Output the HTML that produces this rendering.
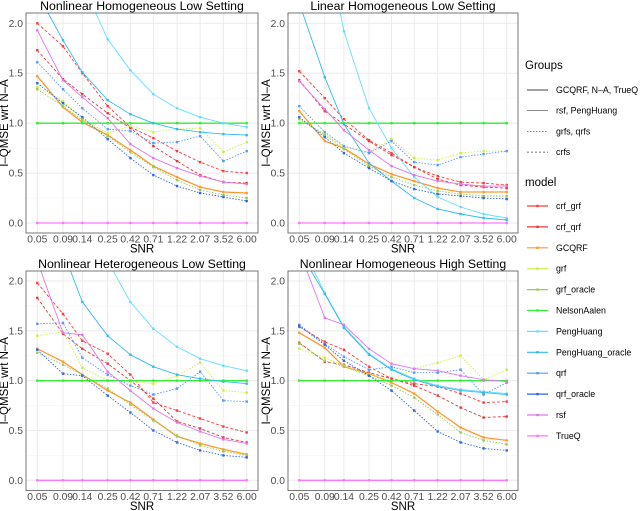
<!DOCTYPE html>
<html><head><meta charset="utf-8"><style>
body{margin:0;background:#fff;}
svg{display:block;font-family:"Liberation Sans",sans-serif;}
</style></head><body>
<svg id="c" width="640" height="511" viewBox="0 0 640 511"></svg>
<script>
const snr=[0.05,0.09,0.14,0.25,0.42,0.71,1.22,2.07,3.52,6.00];
const snrLabels=["0.05","0.09","0.14","0.25","0.42","0.71","1.22","2.07","3.52","6.00"];
const yTicks=[0,0.5,1,1.5,2];
const yTickLabels=["0.0","0.5","1.0","1.5","2.0"];
const models=["crf_grf","crf_qrf","GCQRF","grf","grf_oracle","NelsonAalen","PengHuang","PengHuang_oracle","qrf","qrf_oracle","rsf","TrueQ"];
const colors={crf_grf:"#ff3b3b",crf_qrf:"#e23a3a",GCQRF:"#ff9933",grf:"#ccee44",grf_oracle:"#99cc55",NelsonAalen:"#33ee33",PengHuang:"#66ddff",PengHuang_oracle:"#33bbee",qrf:"#5599ff",qrf_oracle:"#3366dd",rsf:"#dd77ee",TrueQ:"#ff77ff"};
const dash={crf_grf:"3,2",crf_qrf:"3,2",grf:"1.5,1.5",grf_oracle:"1.5,1.5",qrf:"1.5,1.5",qrf_oracle:"1.5,1.5"};
const one=[1,1,1,1,1,1,1,1,1,1], zero=[0,0,0,0,0,0,0,0,0,0];
const p1={crf_grf:[2.00,1.77,1.50,1.17,0.96,0.85,0.72,0.61,0.52,0.50],crf_qrf:[1.73,1.44,1.29,1.10,0.95,0.77,0.62,0.48,0.41,0.40],GCQRF:[1.47,1.16,1.01,0.88,0.73,0.57,0.46,0.36,0.31,0.30],grf:[1.36,1.22,1.04,0.90,0.97,0.91,0.94,0.95,0.71,0.81],grf_oracle:[1.34,1.17,1.03,0.87,0.71,0.56,0.43,0.33,0.28,0.25],NelsonAalen:one,PengHuang:[3.6,3.0,2.4,1.84,1.53,1.29,1.15,1.06,1.00,0.96],PengHuang_oracle:[2.3,1.83,1.51,1.23,1.09,1.00,0.94,0.91,0.89,0.88],qrf:[1.61,1.34,1.15,0.94,0.92,0.80,0.81,0.87,0.62,0.72],qrf_oracle:[1.40,1.20,1.06,0.84,0.65,0.48,0.37,0.30,0.26,0.22],rsf:[1.93,1.43,1.26,1.05,0.79,0.65,0.55,0.47,0.41,0.39],TrueQ:zero};
const p2={crf_grf:[1.52,1.25,1.04,0.83,0.70,0.56,0.47,0.41,0.40,0.38],crf_qrf:[1.43,1.12,0.99,0.82,0.68,0.56,0.44,0.38,0.36,0.35],GCQRF:[1.12,0.82,0.75,0.59,0.49,0.42,0.35,0.31,0.31,0.31],grf:[1.05,0.89,0.76,0.71,0.84,0.65,0.63,0.70,0.72,0.72],grf_oracle:[1.04,0.88,0.74,0.57,0.46,0.38,0.32,0.29,0.27,0.27],NelsonAalen:one,PengHuang:[4.0,2.9,1.92,1.15,0.75,0.46,0.26,0.16,0.09,0.05],PengHuang_oracle:[2.2,1.46,0.99,0.60,0.42,0.25,0.14,0.09,0.05,0.03],qrf:[1.17,0.91,0.77,0.70,0.82,0.61,0.58,0.66,0.69,0.72],qrf_oracle:[1.06,0.86,0.70,0.55,0.42,0.34,0.29,0.27,0.25,0.24],rsf:[1.42,1.14,0.93,0.73,0.57,0.48,0.42,0.39,0.37,0.37],TrueQ:zero};
const p3={crf_grf:[1.98,1.67,1.40,1.27,1.06,0.78,0.70,0.62,0.54,0.48],crf_qrf:[1.83,1.47,1.32,1.17,1.00,0.82,0.59,0.52,0.43,0.38],GCQRF:[1.32,1.19,1.06,0.90,0.78,0.61,0.44,0.37,0.31,0.26],grf:[1.45,1.49,1.13,1.00,0.99,0.97,1.05,1.18,0.90,0.88],grf_oracle:[1.28,1.16,1.06,0.92,0.76,0.60,0.45,0.35,0.29,0.25],NelsonAalen:one,PengHuang:[4.0,3.4,2.8,2.2,1.79,1.52,1.34,1.22,1.15,1.10],PengHuang_oracle:[3.0,2.3,1.79,1.45,1.26,1.14,1.06,1.02,0.99,0.97],qrf:[1.57,1.58,1.23,1.06,0.95,0.86,0.92,1.09,0.80,0.79],qrf_oracle:[1.31,1.07,1.05,0.85,0.68,0.50,0.38,0.30,0.25,0.23],rsf:[2.2,1.48,1.46,1.09,0.90,0.72,0.58,0.49,0.41,0.37],TrueQ:zero};
const p4={crf_grf:[1.54,1.39,1.31,1.14,1.02,0.97,0.94,0.87,0.78,0.79],crf_qrf:[1.38,1.19,1.16,1.08,1.02,0.95,0.85,0.73,0.63,0.64],GCQRF:[1.48,1.33,1.14,1.07,0.98,0.87,0.69,0.53,0.43,0.40],grf:[1.32,1.23,1.15,1.06,1.00,1.12,1.18,1.25,1.01,1.11],grf_oracle:[1.37,1.20,1.14,1.05,0.95,0.83,0.66,0.48,0.40,0.36],NelsonAalen:one,PengHuang:[2.4,1.88,1.54,1.27,1.12,1.02,0.95,0.91,0.89,0.87],PengHuang_oracle:[2.3,1.87,1.53,1.26,1.11,1.01,0.94,0.90,0.88,0.86],qrf:[1.56,1.37,1.24,1.11,1.14,1.08,1.08,1.11,0.86,0.98],qrf_oracle:[1.55,1.36,1.20,1.05,0.90,0.70,0.49,0.38,0.32,0.30],rsf:[2.3,1.63,1.56,1.32,1.17,1.12,1.10,1.05,1.01,0.99],TrueQ:zero};
const panels=[
 {title:"Nonlinear Homogeneous Low Setting",d:p1,L:26,R:258,T:13,B:233,z:223,t:23.3,name:"panel-nonlinear-homogeneous-low"},
 {title:"Linear Homogeneous Low Setting",d:p2,L:288,R:518,T:13,B:233,z:223,t:23.3,name:"panel-linear-homogeneous-low"},
 {title:"Nonlinear Heterogeneous Low Setting",d:p3,L:26,R:258,T:271,B:490.5,z:480.3,t:281,name:"panel-nonlinear-heterogeneous-low"},
 {title:"Nonlinear Homogeneous High Setting",d:p4,L:288,R:518,T:271,B:490.5,z:480.3,t:281,name:"panel-nonlinear-homogeneous-high"}];
const NS="http://www.w3.org/2000/svg";
const svg=document.getElementById("c");
function mk(tag,attrs,parent){const e=document.createElementNS(NS,tag);for(const k in attrs)e.setAttribute(k,attrs[k]);(parent||svg).appendChild(e);return e;}
panels.forEach((p,pi)=>{
  const g=mk("g",{});
  
  
  const lo=Math.log10(snr[0]),hi=Math.log10(snr[snr.length-1]);
  const pad=11.3;
  const xs=v=>p.L+pad+(Math.log10(v)-lo)/(hi-lo)*(p.R-p.L-2*pad);
  const ys=v=>p.z-(v)*(p.z-p.t)/2;
  mk("rect",{x:p.L,y:p.T,width:p.R-p.L,height:p.B-p.T,fill:"#fff"},g);
  for(let v=0.25;v<2.1;v+=0.5){mk("line",{x1:p.L,x2:p.R,y1:ys(v),y2:ys(v),stroke:"#f2f2f2","stroke-width":0.5},g);}
  yTicks.forEach((v,i)=>{mk("line",{x1:p.L,x2:p.R,y1:ys(v),y2:ys(v),stroke:"#ebebeb","stroke-width":1},g);
    const t=mk("text",{x:p.L-3,y:ys(v)+3.5,"text-anchor":"end","font-size":10.3,fill:"#4d4d4d"},g);t.textContent=yTickLabels[i];
    
    });
  snr.forEach((v,i)=>{mk("line",{x1:xs(v),x2:xs(v),y1:p.T,y2:p.B,stroke:"#ebebeb","stroke-width":1},g);
    const t=mk("text",{x:xs(v),y:p.B+9.5,"text-anchor":"middle","font-size":10.3,fill:"#4d4d4d"},g);t.textContent=snrLabels[i];
    
    });
  const cid="clip"+pi;
  const cp=mk("clipPath",{id:cid},g);mk("rect",{x:p.L,y:p.T,width:p.R-p.L,height:p.B-p.T},cp);
  const sg=mk("g",{"clip-path":"url(#"+cid+")"},g);
  models.forEach(m=>{
    const vals=p.d[m];
    const pts=vals.map((v,i)=>xs(snr[i]).toFixed(1)+","+ys(v).toFixed(1)).join(" ");
    const w=(m==="NelsonAalen"||m==="TrueQ"||m==="GCQRF")?1.3:0.9;
    const pl=mk("polyline",{points:pts,fill:"none",stroke:colors[m],"stroke-width":w},sg);
    if(dash[m])pl.setAttribute("stroke-dasharray",dash[m]);
    
    
    vals.forEach((v,i)=>{const r=mk("rect",{x:xs(snr[i])-1.2,y:ys(v)-1.2,width:2.4,height:2.4,fill:colors[m]},sg);
      
      });
  });
  mk("rect",{x:p.L,y:p.T,width:p.R-p.L,height:p.B-p.T,fill:"none",stroke:"#555","stroke-width":0.8},g);
  const tt=mk("text",{x:(p.L+p.R)/2,y:p.T-3,"text-anchor":"middle","font-size":12.3,fill:"#000"},g);tt.textContent=p.title;
  
  
  const xt=mk("text",{x:(p.L+p.R)/2,y:p.B+19.5,"text-anchor":"middle","font-size":11.5,fill:"#000"},g);xt.textContent="SNR";
  
  
  const yx=p.L-18, yy=(p.T+p.B)/2;
  const yt=mk("text",{x:yx,y:yy,"text-anchor":"middle","font-size":11.5,fill:"#000",transform:"rotate(-90 "+yx+" "+yy+")"},g);yt.textContent="I\u2013QMSE wrt N\u2013A";
  
  
});
const lg=mk("g",{});


function txt(x,y,s,size,name){const t=mk("text",{x:x,y:y,"font-size":size,fill:"#000"},lg);t.textContent=s;
  
  return t;}
txt(525,69,"Groups",11.5,"legend-title-groups");
const groups=["GCQRF, N\u2013A, TrueQ","rsf, PengHuang","grfs, qrfs","crfs"];
const gd=[null,null,"1.5,1.5","2,2"];
const gw=[1,0.6,0.6,0.8];
groups.forEach((s,i)=>{const y=90+i*20.7;
  const l=mk("line",{x1:527,x2:548,y1:y,y2:y,stroke:"#444","stroke-width":gw[i]},lg);
  if(gd[i])l.setAttribute("stroke-dasharray",gd[i]);
  
  
  txt(556,y+3,s,8.8,"legend-group-label");});
txt(525,186,"model",11.5,"legend-title-model");
models.forEach((m,i)=>{const y=206+i*20.9;
  const l=mk("line",{x1:527,x2:548,y1:y,y2:y,stroke:colors[m],"stroke-width":1.2},lg);
  
  
  mk("rect",{x:536.3,y:y-1.2,width:2.4,height:2.4,fill:colors[m]},lg);
  txt(556,y+3,m,8.8,"legend-entry-"+m);});
</script>
</body></html>
